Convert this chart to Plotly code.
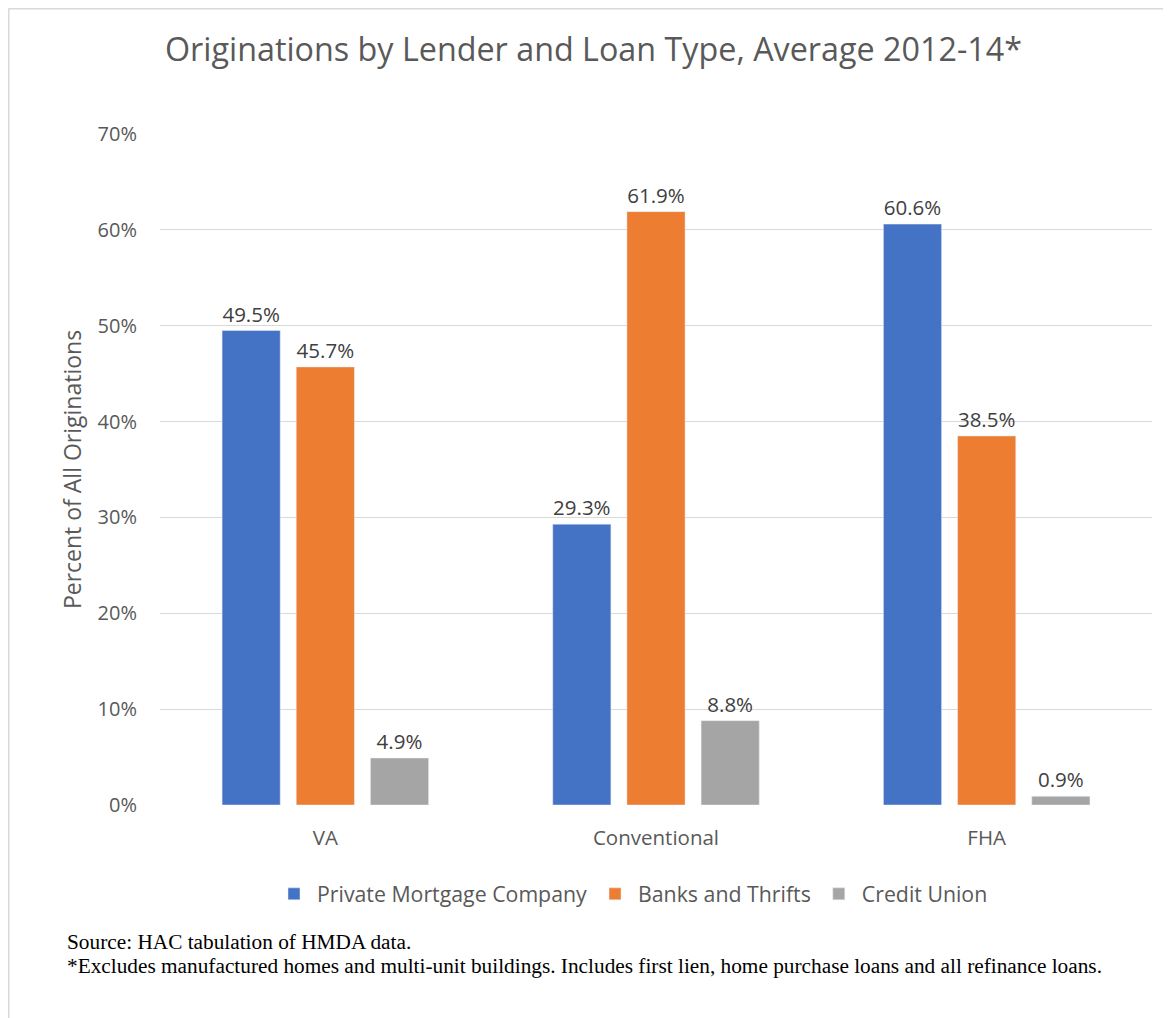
import plotly.graph_objects as go

categories = ["VA", "Conventional", "FHA"]
series_names = ["Private Mortgage Company", "Banks and Thrifts", "Credit Union"]
private_mortgage = [49.5, 29.3, 60.6]
banks_thrifts = [45.7, 61.9, 38.5]
credit_union = [4.9, 8.8, 0.9]
colors = ["#4472C4", "#ED7D31", "#A5A5A5"]
y_ticks = [0, 10, 20, 30, 40, 50, 60, 70]

W, H = 1171, 1018
L, R, T, B = 152, 27, 126, 221
pw = W - L - R
ph = H - T - B

def px_x(x):
    return (x - L) / pw

def px_y(y):
    return (H - B - y) / ph

fig = go.Figure()
for name, vals, col in zip(series_names, [private_mortgage, banks_thrifts, credit_union], colors):
    fig.add_trace(go.Bar(
        x=categories, y=vals, name=name, marker_color=col,
        text=[f"{v:.1f}%" for v in vals], textposition="outside",
        textfont=dict(size=20.5, color="#404040", family="Open Sans"),
        constraintext="none",
        cliponaxis=False,
    ))

fig.update_layout(
    width=W, height=H,
    margin=dict(l=L, r=R, t=T, b=B, autoexpand=False),
    paper_bgcolor="white", plot_bgcolor="white",
    barmode="group", bargap=0.327, bargroupgap=0.216,
    font=dict(family="Open Sans", color="#595959"),
    title=dict(text="Originations by Lender and Loan Type, Average 2012-14*",
               x=0.5, xanchor="center", y=1 - 42 / H, yanchor="middle",
               font=dict(size=32.3, color="#595959", family="Open Sans")),
    legend=dict(orientation="h", x=px_x(624), xanchor="center",
                y=px_y(886), yanchor="middle",
                font=dict(size=21.3, color="#595959"),
                itemwidth=36,
                traceorder="normal"),
    showlegend=True,
)
fig.update_yaxes(range=[0, 70], tickvals=y_ticks, ticktext=[f"{v}%" for v in y_ticks],
                 showgrid=True, gridcolor="#D9D9D9", gridwidth=1, zeroline=False,
                 showline=False, tickfont=dict(size=20, color="#595959"), ticks="",
                 ticklabelstandoff=22,
                 title=dict(text="Percent of All Originations", font=dict(size=23, color="#595959"),
                            standoff=9))
fig.update_xaxes(showgrid=False, showline=False, tickfont=dict(size=20.5, color="#595959"),
                 ticks="", ticklabelstandoff=18)

fig.add_annotation(
    xref="paper", yref="paper", x=px_x(57), y=px_y(934), xanchor="left", yanchor="middle",
    align="left", showarrow=False,
    text="Source: HAC tabulation of HMDA data.",
    font=dict(family="Liberation Serif", size=21.3, color="#000000"),
)
fig.add_annotation(
    xref="paper", yref="paper", x=px_x(57), y=px_y(958), xanchor="left", yanchor="middle",
    align="left", showarrow=False,
    text="*Excludes manufactured homes and multi-unit buildings. Includes first lien, home purchase loans and all refinance loans.",
    font=dict(family="Liberation Serif", size=21.3, color="#000000"),
)

# outer border lines
fig.add_shape(type="line", xref="paper", yref="paper", x0=px_x(0.5), x1=px_x(0.5),
              y0=px_y(0.5), y1=px_y(1030), line=dict(color="#D9D9D9", width=2))
fig.add_shape(type="line", xref="paper", yref="paper", x0=px_x(0.5), x1=px_x(1180),
              y0=px_y(0.5), y1=px_y(0.5), line=dict(color="#D9D9D9", width=2))

fig.write_html("out.html")
